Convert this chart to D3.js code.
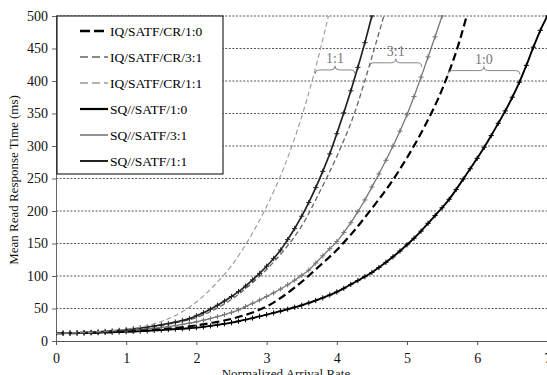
<!DOCTYPE html>
<html><head><meta charset="utf-8">
<script src="https://cdn.jsdelivr.net/npm/d3@7"></script>
<style>body{margin:0;background:#fff}svg{display:block}</style>
</head><body>
<svg id="c" width="547" height="375"></svg>
<script>
// ---- data ----
const xTicks = [0,1,2,3,4,5,6,7];
const yTicks = [0,50,100,150,200,250,300,350,400,450,500];
const seriesNames = ["IQ/SATF/CR/1:0","IQ/SATF/CR/3:1","IQ/SATF/CR/1:1","SQ//SATF/1:0","SQ//SATF/3:1","SQ//SATF/1:1"];

const sq10X = [0,0.1,0.2,0.3,0.4,0.5,0.6,0.7,0.8,0.9,1.0,1.1,1.2,1.3,1.4,1.5,1.6,1.7,1.8,1.9,2.0,2.1,2.2,2.3,2.4,2.5,2.6,2.7,2.8,2.9,3.0,3.1,3.2,3.3,3.4,3.5,3.6,3.7,3.8,3.9,4.0,4.1,4.2,4.3,4.4,4.5,4.6,4.7,4.8,4.9,5.0,5.1,5.2,5.3,5.4,5.5,5.6,5.7,5.8,5.9,6.0,6.1,6.2,6.3,6.4,6.5,6.6,6.7,6.8,6.9,7.0];
const sq10 = [12,12,12.1,12.2,12.4,12.6,12.9,13.2,13.5,13.9,14.3,14.7,15.2,15.7,16.3,16.9,17.5,18.2,18.9,19.7,20.6,21.8,23.2,24.8,26.5,28.3,30.4,32.8,35.3,37.9,40.5,43.2,46,48.9,51.9,55,58.5,62.3,66.4,70.8,75.5,81,87,93,99,105.5,113,121,129.5,138.5,148,158,169,181,193,205,218,233,249,265,281,298,316,335,354,375,398,424,452,478,500];

const sq31X = [0,0.1,0.2,0.3,0.4,0.5,0.6,0.7,0.8,0.9,1.0,1.1,1.2,1.3,1.4,1.5,1.6,1.7,1.8,1.9,2.0,2.1,2.2,2.3,2.4,2.5,2.6,2.7,2.8,2.9,3.0,3.1,3.2,3.3,3.4,3.5,3.6,3.7,3.8,3.9,4.0,4.1,4.2,4.3,4.4,4.5,4.6,4.7,4.8,4.9,5.0,5.1,5.2,5.3,5.4,5.5];
const sq31 = [12,12,12.2,12.4,12.7,13,13.4,13.9,14.5,15.1,15.8,16.6,17.5,18.5,19.6,20.8,22.2,23.8,25.6,27.5,29.6,32,34.6,37.5,40.6,44,47.8,53,58,63,68.5,74,80,86.5,93.5,101,109,120,131,142,153,167,182,199,217,237,257,278,300,323,348,376,406,437,468,500];

const sq11X = [0,0.1,0.2,0.3,0.4,0.5,0.6,0.7,0.8,0.9,1.0,1.1,1.2,1.3,1.4,1.5,1.6,1.7,1.8,1.9,2.0,2.1,2.2,2.3,2.4,2.5,2.6,2.7,2.8,2.9,3.0,3.1,3.2,3.3,3.4,3.5,3.6,3.7,3.8,3.9,4.0,4.1,4.2,4.3,4.4,4.5];
const sq11 = [12,12,12.3,12.6,13,13.4,14,14.7,15.5,16.4,17.5,18.7,20,21.5,23.1,24.9,26.9,29.1,31.6,34.5,38.8,43.6,49,55,61.5,68.5,76,84.5,94,104,115,127,140,156,173,192,213,236,261,288,319,351,385,421,459,500];

const iq10X = [0,0.25,0.5,0.75,1,1.25,1.5,1.75,2,2.25,2.5,2.75,3,3.25,3.5,3.75,4,4.25,4.5,4.75,5,5.25,5.5,5.75,5.85];
const iq10 = [12,12.2,12.7,13.5,14.6,16,18,20.6,24,28.5,34,42,53,70,91,115,140,170,204,240,282,330,387,462,500];

const iq31X = [0,0.25,0.5,0.75,1,1.25,1.5,1.75,2,2.25,2.5,2.75,3,3.25,3.5,3.75,4,4.25,4.5,4.67];
const iq31 = [12,12.4,13.2,14.6,17,20,24,29,36,48,64,85,110,140,177,228,284,350,437,500];

const iq11X = [0,0.25,0.5,0.75,1,1.25,1.5,1.75,2,2.25,2.5,2.75,3,3.25,3.5,3.75,3.88];
const iq11 = [12,12.5,13.5,15.5,18,22,30,42,60,85,116,157,207,268,345,442,500];

// annotation braces (data units)
const annLabels = ["1:1","3:1","1:0"];
const annX1 = [3.69,4.47,5.58];
const annX2 = [4.26,5.21,6.61];
const annY = [417,428,416];

// ---- drawing ----
const svg = d3.select("#c");
const L = 56, R = 547.4, T = 16, B = 341;
const x = d3.scaleLinear().domain([0,7]).range([L,R]);
const y = d3.scaleLinear().domain([0,500]).range([B,T]);
const font = "'Liberation Serif','Times New Roman',serif";

// grid
svg.append("g").selectAll("line").data(yTicks.filter(d=>d>0)).join("line")
  .attr("x1",L).attr("x2",R).attr("y1",d=>y(d)).attr("y2",d=>y(d))
  .attr("stroke","#555").attr("stroke-width",1).attr("stroke-dasharray","2,1.6");

// axes
const ya = svg.append("g").attr("transform",`translate(${L},0)`)
  .call(d3.axisLeft(y).tickValues(yTicks).tickSize(4).tickPadding(4));
ya.attr("font-family",font);
ya.selectAll("text").attr("font-family",font).attr("font-size",14).attr("fill","#111");
ya.selectAll("line,path").attr("stroke","#666");
const xa = svg.append("g").attr("transform",`translate(0,${B})`)
  .call(d3.axisBottom(x).tickValues(xTicks).tickSize(4).tickPadding(8).tickFormat(d3.format("d")));
xa.attr("font-family",font);
xa.selectAll("text").attr("font-family",font).attr("font-size",14).attr("fill","#111");
xa.selectAll("line,path").attr("stroke","#555");

// clip
svg.append("clipPath").attr("id","pc").append("rect")
  .attr("x",L).attr("y",T-1).attr("width",R-L).attr("height",B-T+1);

const styles = [
  {c:"#000", w:2.2, dash:"8,4", m:false},
  {c:"#666", w:1.3, dash:"5,3", m:false},
  {c:"#999", w:1.1, dash:"5,3", m:false},
  {c:"#000", w:1.9, dash:null, m:true},
  {c:"#777", w:1.3, dash:null, m:true},
  {c:"#222", w:1.7, dash:null, m:true}
];
const data = [
  d3.zip(iq10X,iq10), d3.zip(iq31X,iq31), d3.zip(iq11X,iq11),
  d3.zip(sq10X,sq10), d3.zip(sq31X,sq31), d3.zip(sq11X,sq11)
];
const line = d3.line().x(d=>x(d[0])).y(d=>y(d[1])).curve(d3.curveMonotoneX);
const plot = svg.append("g").attr("clip-path","url(#pc)");
const order = [3,4,0,1,5,2];
order.forEach(i=>{
  const s = styles[i];
  plot.append("path").datum(data[i]).attr("d",line)
    .attr("fill","none").attr("stroke",s.c).attr("stroke-width",s.w)
    .attr("stroke-dasharray",s.dash);
  if (s.m) {
    const a = 2.6;
    plot.append("g").selectAll("path").data(data[i]).join("path")
      .attr("d",d=>`M${x(d[0])-a},${y(d[1])}h${2*a}M${x(d[0])},${y(d[1])-a}v${2*a}`)
      .attr("stroke",s.c).attr("stroke-width",1).attr("fill","none");
  }
});

// annotations
annLabels.forEach((lab,i)=>{
  const x1 = x(annX1[i]), x2 = x(annX2[i]), yy = y(annY[i]), m = (x1+x2)/2, h = 4;
  svg.append("path")
    .attr("d",`M${x1},${yy+h} Q${x1},${yy} ${x1+h},${yy} L${m-h},${yy} Q${m},${yy} ${m},${yy-h} Q${m},${yy} ${m+h},${yy} L${x2-h},${yy} Q${x2},${yy} ${x2},${yy+h}`)
    .attr("fill","none").attr("stroke","#888").attr("stroke-width",1);
  svg.append("text").attr("x",m).attr("y",yy-7).attr("text-anchor","middle")
    .attr("font-family",font).attr("font-size",14).attr("fill","#777").text(lab);
});

// legend
const lg = svg.append("g");
lg.append("rect").attr("x",57).attr("y",16).attr("width",166).attr("height",158)
  .attr("fill","#fff").attr("stroke","#000").attr("stroke-width",1);
seriesNames.forEach((n,i)=>{
  const cy = 31 + i*26, s = styles[i];
  lg.append("line").attr("x1",80).attr("x2",108).attr("y1",cy).attr("y2",cy)
    .attr("stroke",s.c).attr("stroke-width",s.w+0.3)
    .attr("stroke-dasharray", i===0 ? "10,4" : (s.dash ? "8,4" : null));
  lg.append("text").attr("x",110).attr("y",cy+4.5)
    .attr("font-family",font).attr("font-size",13.5).attr("fill","#000").text(n);
});

// axis titles
svg.append("text").attr("transform","translate(18,180) rotate(-90)")
  .attr("text-anchor","middle").attr("font-family",font).attr("font-size",13).attr("fill","#111")
  .text("Mean Read Response Time (ms)");
svg.append("text").attr("x",286).attr("y",378).attr("text-anchor","middle")
  .attr("font-family",font).attr("font-size",13).attr("fill","#111")
  .text("Normalized Arrival Rate");
</script>
</body></html>
